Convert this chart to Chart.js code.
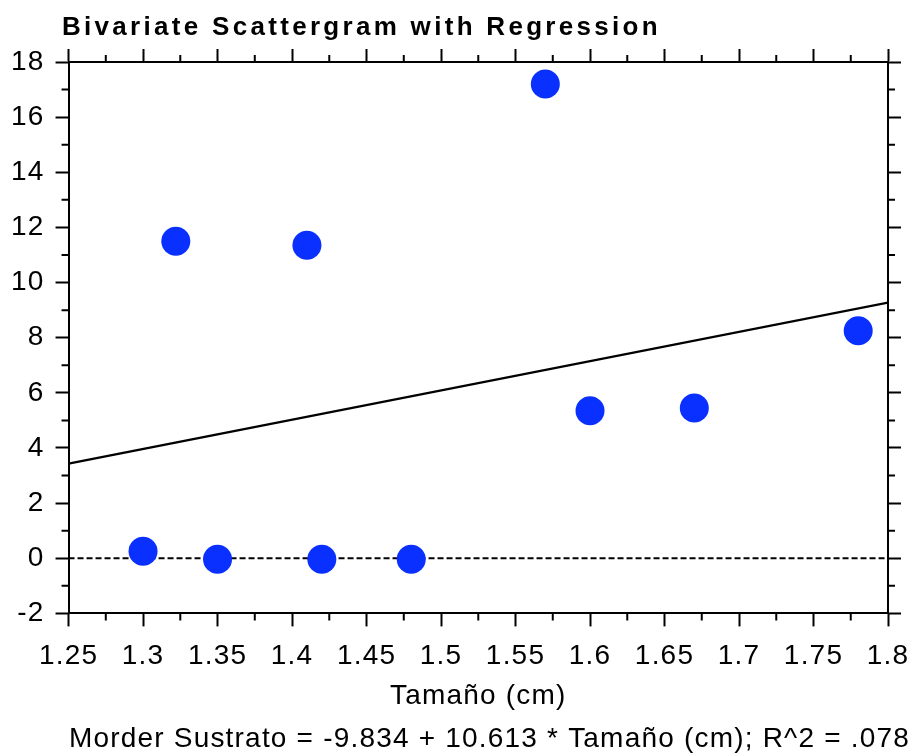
<!DOCTYPE html>
<html><head><meta charset="utf-8">
<script src="https://cdn.jsdelivr.net/npm/chart.js@4/dist/chart.umd.min.js"></script>
<style>html,body{margin:0;padding:0;background:#fff;}#wrap{width:918px;height:756px;}</style>
</head><body><div id="wrap"><canvas id="c" width="918" height="756"></canvas></div>
<script>
// Data
const tamano = [1.30, 1.322, 1.35, 1.41, 1.42, 1.48, 1.57, 1.60, 1.67, 1.78];
const morder = [0.25, 11.5, -0.04, 11.35, -0.04, -0.04, 17.2, 5.35, 5.45, 8.25];
const regIntercept = [-9.834];
const regSlope = [10.613];
const xTickValues = [1.25, 1.3, 1.35, 1.4, 1.45, 1.5, 1.55, 1.6, 1.65, 1.7, 1.75, 1.8];
const xTickLabels = ['1.25', '1.3', '1.35', '1.4', '1.45', '1.5', '1.55', '1.6', '1.65', '1.7', '1.75', '1.8'];
const yTickValues = [-2, 0, 2, 4, 6, 8, 10, 12, 14, 16, 18];
const yTickLabels = ['-2', '0', '2', '4', '6', '8', '10', '12', '14', '16', '18'];
const titleText = 'Bivariate Scattergram with Regression';
const xTitle = 'Tamaño (cm)';
const footerText = 'Morder Sustrato = -9.834 + 10.613 * Tamaño (cm); R^2 = .078';

const FONT = "'Liberation Sans', Arial, sans-serif";
const SPACING = '1.2px';
const xMin = xTickValues[0], xMax = xTickValues[xTickValues.length - 1];
const yMin = yTickValues[0], yMax = yTickValues[yTickValues.length - 1];

const points = tamano.map((x, i) => ({x: x, y: morder[i]}));
const regLine = [xMin, xMax].map(x => ({x: x, y: regIntercept[0] + regSlope[0] * x}));
const zeroLine = [{x: xMin, y: 0}, {x: xMax, y: 0}];

const MAJOR = 13, MINOR = 7, LW = 2;

function setTicks(values) {
  return function(scale) { scale.ticks = values.map(v => ({value: v})); };
}

const textStyle = {
  id: 'textStyle',
  beforeUpdate(chart) { chart.ctx.letterSpacing = SPACING; },
  beforeLayout(chart) { chart.ctx.letterSpacing = SPACING; },
  beforeDraw(chart) { chart.ctx.letterSpacing = SPACING; }
};

const decorations = {
  id: 'decorations',
  afterDraw(chart) {
    const ctx = chart.ctx;
    const a = chart.chartArea;
    ctx.save();
    ctx.strokeStyle = '#000';
    ctx.lineWidth = LW;
    ctx.beginPath();
    const xs = chart.scales.x;
    for (let i = 0; i < xTickValues.length - 1; i++) {
      const px = xs.getPixelForValue((xTickValues[i] + xTickValues[i + 1]) / 2);
      ctx.moveTo(px, a.bottom); ctx.lineTo(px, a.bottom + MINOR);
      ctx.moveTo(px, a.top); ctx.lineTo(px, a.top - MINOR);
    }
    const ys = chart.scales.y;
    for (let i = 0; i < yTickValues.length - 1; i++) {
      const py = ys.getPixelForValue((yTickValues[i] + yTickValues[i + 1]) / 2);
      ctx.moveTo(a.left, py); ctx.lineTo(a.left - MINOR, py);
      ctx.moveTo(a.right, py); ctx.lineTo(a.right + MINOR, py);
    }
    ctx.stroke();
    // Title
    ctx.letterSpacing = '3.3px';
    ctx.fillStyle = '#000';
    ctx.font = "bold 26px " + FONT;
    ctx.textAlign = 'left';
    ctx.textBaseline = 'middle';
    ctx.fillText(titleText, 62, 28);
    ctx.restore();
  }
};

function axis(pos, isX, showLabels, title) {
  const o = {
    type: 'linear',
    position: pos,
    min: isX ? xMin : yMin,
    max: isX ? xMax : yMax,
    afterBuildTicks: setTicks(isX ? xTickValues : yTickValues),
    grid: {drawOnChartArea: false, drawTicks: true, tickLength: MAJOR, tickWidth: LW, tickColor: '#000'},
    border: {display: true, color: '#000', width: LW},
    ticks: {
      display: showLabels,
      autoSkip: false,
      maxRotation: 0,
      padding: isX ? 19 : 11,
      color: '#000',
      font: {family: FONT, size: 28, lineHeight: isX ? 0.78 : 1.2},
      callback: function(v) {
        const arr = isX ? xTickValues : yTickValues;
        const lab = isX ? xTickLabels : yTickLabels;
        const idx = arr.findIndex(t => Math.abs(t - v) < 1e-9);
        return idx >= 0 ? lab[idx] : '';
      }
    }
  };
  if (isX) {
    o.afterFit = function(scale) {
      scale.paddingLeft = 0;
      scale.paddingRight = 30;
      if (pos === 'bottom') scale.height = 100;
    };
  }
  if (title) {
    o.title = {display: true, text: title, color: '#000', font: {family: FONT, size: 28}, padding: {top: 1, bottom: 0}};
  }
  return o;
}

new Chart(document.getElementById('c'), {
  type: 'scatter',
  data: {
    datasets: [
      {type: 'line', data: zeroLine, borderColor: '#000', borderWidth: 2, borderDash: [6, 3], pointRadius: 0, fill: false, order: 3},
      {type: 'line', data: regLine, borderColor: '#000', borderWidth: 2.3, pointRadius: 0, fill: false, order: 2},
      {data: points, backgroundColor: '#0a30ff', borderColor: '#0a30ff', pointRadius: 14.5, pointHoverRadius: 14.5, borderWidth: 0, order: 1}
    ]
  },
  options: {
    responsive: false,
    animation: false,
    events: [],
    layout: {padding: {left: 0, right: 8, top: 49, bottom: 0}},
    plugins: {
      legend: {display: false},
      tooltip: {enabled: false},
      title: {display: false},
      subtitle: {display: true, position: 'bottom', text: footerText, align: 'end', color: '#000', font: {family: FONT, size: 28}, padding: {top: 9, bottom: 0}}
    },
    scales: {
      x: axis('bottom', true, true, xTitle),
      x2: axis('top', true, false),
      y: axis('left', false, true),
      y2: axis('right', false, false)
    }
  },
  plugins: [textStyle, decorations]
});
</script>
</body></html>
